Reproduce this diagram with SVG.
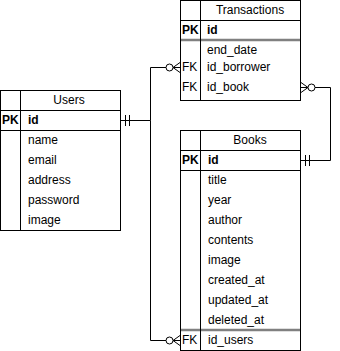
<svg xmlns="http://www.w3.org/2000/svg" width="340" height="351" viewBox="0 0 340 351">
  <style>
    .box { fill: #ffffff; stroke: #000000; stroke-width: 1; }
    .rule { stroke: #000000; stroke-width: 1; fill: none; }
    .sep { stroke: #808080; stroke-width: 2.5; fill: none; }
    .title { font-family: "Liberation Sans", Arial, sans-serif; font-size: 12px; fill: #000000; text-anchor: middle; }
    .field { font-family: "Liberation Sans", Arial, sans-serif; font-size: 12px; fill: #000000; }
    .key { font-family: "Liberation Sans", Arial, sans-serif; font-size: 12px; font-weight: bold; fill: #000000; }
    .edge { stroke: #000000; stroke-width: 1; fill: none; }
    .ring { stroke: #000000; stroke-width: 1; fill: #ffffff; }
  </style>

  <!-- Users table -->
  <g id="users">
    <rect class="box" x="0.5" y="90.5" width="120" height="140"/>
    <line class="rule" x1="0.5" y1="110.5" x2="120.5" y2="110.5"/>
    <line class="rule" x1="0.5" y1="130.5" x2="120.5" y2="130.5"/>
    <line class="rule" x1="20.5" y1="90.5" x2="20.5" y2="230.5"/>
    <text class="title" x="69" y="104">Users</text>
    <text class="key" x="2" y="124">PK</text>
    <text class="key" x="28" y="124">id</text>
    <text class="field" x="28" y="144">name</text>
    <text class="field" x="28" y="164">email</text>
    <text class="field" x="28" y="184">address</text>
    <text class="field" x="28" y="204">password</text>
    <text class="field" x="28" y="224">image</text>
  </g>

  <!-- Transactions table -->
  <g id="transactions">
    <rect class="box" x="180.5" y="0.5" width="120" height="100"/>
    <line class="rule" x1="180.5" y1="20.5" x2="300.5" y2="20.5"/>
    <line class="sep" x1="181" y1="40" x2="300" y2="40"/>
    <line class="rule" x1="200.5" y1="0.5" x2="200.5" y2="100.5"/>
    <text class="title" x="250" y="14">Transactions</text>
    <text class="key" x="182" y="34">PK</text>
    <text class="key" x="207" y="34">id</text>
    <text class="field" x="207" y="54">end_date</text>
    <text class="field" x="182" y="71">FK</text>
    <text class="field" x="207" y="71">id_borrower</text>
    <text class="field" x="182" y="91">FK</text>
    <text class="field" x="207" y="91">id_book</text>
  </g>

  <!-- Books table -->
  <g id="books">
    <rect class="box" x="180.5" y="130.5" width="120" height="220"/>
    <line class="rule" x1="180.5" y1="150.5" x2="300.5" y2="150.5"/>
    <line class="rule" x1="180.5" y1="170.5" x2="300.5" y2="170.5"/>
    <line class="sep" x1="181" y1="330" x2="300" y2="330"/>
    <line class="rule" x1="200.5" y1="130.5" x2="200.5" y2="350.5"/>
    <text class="title" x="250" y="144">Books</text>
    <text class="key" x="182" y="164">PK</text>
    <text class="key" x="208" y="164">id</text>
    <text class="field" x="208" y="184">title</text>
    <text class="field" x="208" y="204">year</text>
    <text class="field" x="208" y="224">author</text>
    <text class="field" x="208" y="244">contents</text>
    <text class="field" x="208" y="264">image</text>
    <text class="field" x="208" y="284">created_at</text>
    <text class="field" x="208" y="304">updated_at</text>
    <text class="field" x="208" y="324">deleted_at</text>
    <text class="field" x="182" y="344">FK</text>
    <text class="field" x="208" y="344">id_users</text>
  </g>

  <!-- Relationships -->
  <g id="connectors">
    <!-- Users.id to Transactions.id_borrower -->
    <path class="edge" d="M120.5 120.5 H150.5 V67.5 H166"/>
    <line class="edge" x1="125.5" y1="115" x2="125.5" y2="126"/>
    <line class="edge" x1="129.5" y1="115" x2="129.5" y2="126"/>
    <path class="edge" d="M180 62.5 L173 67.5 L180 72.5 M173 67.5 H180"/>
    <circle class="ring" cx="169.5" cy="67.5" r="3.5"/>

    <!-- Users.id to Books.id_users -->
    <path class="edge" d="M150.5 120.5 V340.5 H166"/>
    <path class="edge" d="M180 335.5 L173 340.5 L180 345.5 M173 340.5 H180"/>
    <circle class="ring" cx="169.5" cy="340.5" r="3.5"/>

    <!-- Books.id to Transactions.id_book -->
    <path class="edge" d="M300.5 160.5 H330.5 V87.5 H315"/>
    <line class="edge" x1="305.5" y1="155" x2="305.5" y2="166"/>
    <line class="edge" x1="309.5" y1="155" x2="309.5" y2="166"/>
    <path class="edge" d="M301 82.5 L308 87.5 L301 92.5 M301 87.5 H308"/>
    <circle class="ring" cx="311.5" cy="87.5" r="3.5"/>
  </g>
</svg>
